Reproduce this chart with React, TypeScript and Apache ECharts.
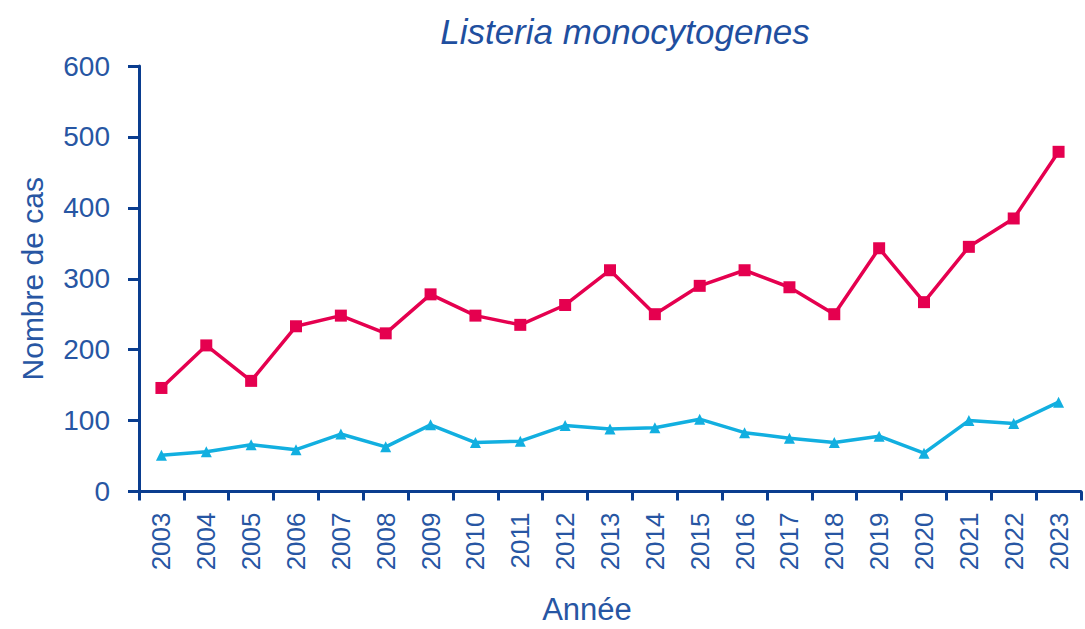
import React, { useEffect, useRef } from "react";
import * as echarts from "echarts";

const years = ["2003","2004","2005","2006","2007","2008","2009","2010","2011","2012","2013","2014","2015","2016","2017","2018","2019","2020","2021","2022","2023"];
const seriesRed = [146, 206, 156, 233, 248, 223, 278, 248, 235, 263, 312, 250, 290, 312, 288, 250, 343, 267, 345, 385, 479];
const seriesBlue = [51, 56, 66, 59, 81, 63, 94, 69, 71, 93, 88, 90, 102, 83, 75, 69, 78, 54, 100, 96, 126];
const yTicks = [0, 100, 200, 300, 400, 500, 600];

const FONT = "'Liberation Sans Narrow', 'Arial Narrow', 'Liberation Sans', Arial, sans-serif";
const AXIS = "#0a3d8f";
const TEXT = "#2756a3";

export default function App() {
  const ref = useRef<HTMLDivElement>(null);
  useEffect(() => {
    const chart = echarts.init(ref.current!, undefined, { renderer: "svg" });
    chart.setOption({
      animation: false,
      backgroundColor: "#ffffff",
      title: {
        text: "Listeria monocytogenes",
        left: 620,
        top: 9,
        textAlign: "center",
        textStyle: { fontFamily: FONT, fontStyle: "italic", fontWeight: "normal", fontSize: 35, color: "#1f4f9f" },
      },
      grid: { left: 139, right: 4, top: 66, bottom: 137.5, containLabel: false, outerBoundsMode: "none" },
      xAxis: {
        type: "category",
        data: years,
        boundaryGap: true,
        name: "Année",
        nameLocation: "middle",
        nameGap: 102,
        nameTextStyle: { fontFamily: FONT, fontSize: 31, color: TEXT, padding: [0, 46, 0, 0] },
        axisLine: { lineStyle: { color: AXIS, width: 3 } },
        axisTick: { show: true, length: 9, alignWithLabel: false, lineStyle: { color: AXIS, width: 3 } },
        axisLabel: { rotate: 90, margin: 21, fontFamily: FONT, fontSize: 26, color: TEXT, interval: 0 },
      },
      yAxis: {
        type: "value",
        min: 0,
        max: 600,
        interval: 100,
        name: "Nombre de cas",
        nameLocation: "middle",
        nameGap: 92,
        nameTextStyle: { fontFamily: FONT, fontSize: 30, color: TEXT },
        splitLine: { show: false },
        axisLine: { show: true, lineStyle: { color: AXIS, width: 3 } },
        axisTick: { show: true, length: 11, lineStyle: { color: AXIS, width: 3 } },
        axisLabel: {
          margin: 29,
          fontFamily: FONT,
          fontSize: 28,
          color: TEXT,
          formatter: (v: number) => (yTicks.includes(v) ? String(v) : ""),
        },
      },
      series: [
        {
          name: "Cas",
          type: "line",
          data: seriesRed,
          symbol: "rect",
          symbolSize: 12,
          lineStyle: { color: "#e5004f", width: 3.5 },
          itemStyle: { color: "#e5004f" },
        },
        {
          name: "Autres",
          type: "line",
          data: seriesBlue,
          symbol: "triangle",
          symbolSize: 11,
          lineStyle: { color: "#12afe0", width: 3.5 },
          itemStyle: { color: "#12afe0" },
        },
      ],
    });
    return () => chart.dispose();
  }, []);
  return <div ref={ref} style={{ width: 1085, height: 629, position: "absolute", left: 0, top: 0 }} />;
}
